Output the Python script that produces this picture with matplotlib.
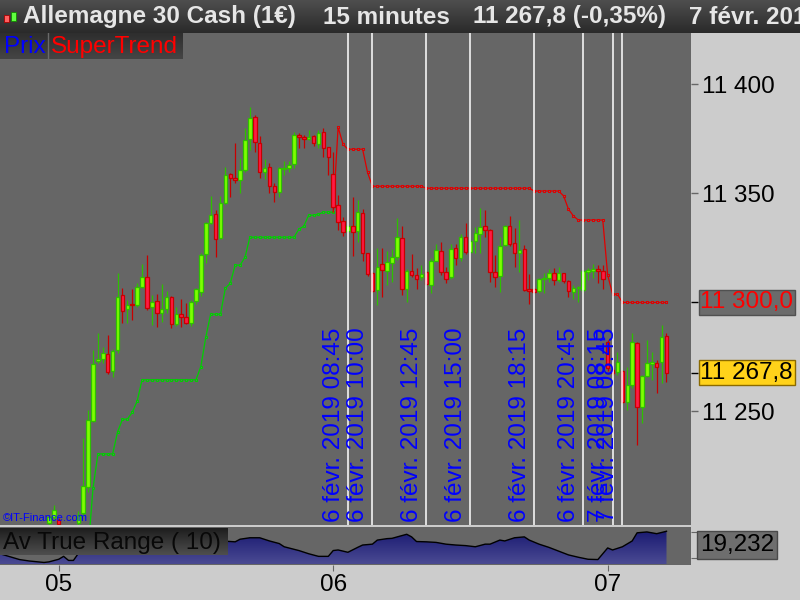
import matplotlib
matplotlib.use('Agg')
import matplotlib.pyplot as plt
import matplotlib.transforms as mtransforms
from matplotlib.colors import LinearSegmentedColormap
from matplotlib.patches import Rectangle
import numpy as np

nan = np.nan

# DAX (Allemagne 30 Cash) 15 min - bougies
opens = [11199.0, 11201.6, 11200.0, nan, nan, nan, 11198.9, 11203.4, 11215.4, 11245.6,
         11273.2, 11274.1, 11276.4, 11268.6, 11278.2, 11303.4, 11297.0, 11299.3, 11298.9, 11307.1,
         11311.7, 11297.9, 11300.7, 11295.2, 11297.0, 11302.5, 11290.1, 11294.7, 11293.3, 11290.6,
         11300.7, 11304.8, 11322.2, 11336.5, 11340.6, 11329.6, 11345.6, 11358.9, 11357.2, 11356.2,
         11360.8, 11375.0, 11385.1, 11373.2, 11359.9, 11362.2, 11353.4, 11350.7, 11361.2, 11361.7,
         11363.5, 11376.8, 11375.9, 11375.0, 11376.4, 11372.7, 11378.2, 11371.2, 11358.9, 11344.7,
         11337.4, 11332.8, 11335.1, 11332.8, 11341.1, 11322.7, 11313.5, 11305.7, 11317.7, 11314.4,
         11318.1, 11320.9, 11329.6, 11306.2, 11314.4, 11312.6, 11311.7, 11314.0, 11308.0, 11319.0,
         11323.6, 11314.0, 11311.7, 11325.0, 11320.4, 11330.0, 11323.2, 11328.2, 11331.4, 11335.1,
         11333.3, 11314.0, 11312.2, 11326.4, 11335.1, 11327.3, 11322.7, 11324.5, 11306.2, 11306.2,
         11305.3, 11310.8, 11311.2, 11313.5, 11310.3, 11313.5, 11309.9, 11304.8, 11306.5, 11305.7,
         11314.1, 11314.4, 11315.4, 11314.4, 11281.9, 11269.0, 11268.1, 11268.6, 11254.4, 11262.2,
         11281.4, 11252.1, 11266.3, 11272.0, 11272.2, 11272.7, 11284.6]
highs = [11202.5, 11207.1, 11201.0, nan, nan, nan, 11204.4, 11237.8, 11250.7, 11278.2,
         11286.0, 11279.6, 11285.1, 11278.5, 11313.5, 11306.7, 11301.1, 11306.2, 11308.9, 11317.7,
         11321.8, 11303.4, 11303.9, 11308.5, 11305.3, 11303.0, 11297.9, 11301.6, 11299.8, 11301.1,
         11306.7, 11322.7, 11336.9, 11348.9, 11342.4, 11348.9, 11362.2, 11359.3, 11373.2, 11366.3,
         11380.0, 11389.7, 11386.0, 11376.4, 11365.8, 11364.0, 11354.8, 11362.2, 11364.9, 11365.0,
         11378.2, 11377.8, 11376.8, 11379.1, 11376.8, 11379.1, 11380.0, 11371.5, 11369.0, 11349.3,
         11339.2, 11335.5, 11348.4, 11347.0, 11342.9, 11322.9, 11314.0, 11325.0, 11325.0, 11323.6,
         11324.5, 11338.8, 11335.1, 11315.4, 11322.2, 11315.8, 11317.2, 11314.5, 11320.4, 11326.8,
         11327.8, 11316.3, 11326.8, 11326.8, 11331.4, 11336.5, 11329.0, 11334.6, 11343.3, 11342.4,
         11333.5, 11321.8, 11330.0, 11335.5, 11339.7, 11334.2, 11337.8, 11326.4, 11313.1, 11306.5,
         11311.0, 11313.5, 11315.4, 11315.8, 11316.3, 11313.7, 11310.3, 11308.0, 11307.6, 11315.0,
         11315.8, 11317.7, 11317.2, 11317.2, 11282.8, 11270.0, 11277.3, 11269.0, 11270.4, 11286.0,
         11282.0, 11266.5, 11282.8, 11277.3, 11273.6, 11289.7, 11286.0]
lows = [11198.0, 11200.5, 11196.0, nan, nan, nan, 11197.0, 11202.0, 11213.1, 11245.0,
        11272.2, 11272.2, 11267.2, 11265.8, 11277.0, 11290.6, 11290.6, 11292.0, 11297.9, 11306.5,
        11296.6, 11289.7, 11288.8, 11291.1, 11295.2, 11288.3, 11289.2, 11288.8, 11290.2, 11289.2,
        11299.3, 11303.0, 11318.1, 11336.0, 11320.9, 11329.0, 11345.0, 11348.4, 11354.8, 11350.2,
        11360.0, 11370.0, 11369.0, 11357.1, 11356.6, 11350.2, 11346.1, 11348.4, 11358.5, 11359.9,
        11361.7, 11370.9, 11370.9, 11374.5, 11371.8, 11370.9, 11366.7, 11358.5, 11343.0, 11333.3,
        11330.5, 11332.5, 11321.3, 11327.8, 11319.0, 11312.2, 11305.0, 11298.9, 11302.5, 11308.0,
        11309.4, 11319.5, 11303.4, 11300.2, 11311.7, 11306.2, 11310.3, 11308.0, 11304.4, 11318.8,
        11312.6, 11308.9, 11310.8, 11317.2, 11319.0, 11322.2, 11322.5, 11322.7, 11322.7, 11330.0,
        11309.4, 11307.1, 11304.8, 11326.0, 11325.9, 11316.3, 11314.0, 11305.3, 11299.3, 11304.5,
        11304.4, 11304.4, 11309.4, 11308.0, 11309.4, 11308.9, 11302.5, 11301.6, 11300.2, 11305.0,
        11310.3, 11311.2, 11308.9, 11306.2, 11268.5, 11266.7, 11266.7, 11254.0, 11250.7, 11260.8,
        11234.7, 11244.7, 11266.0, 11264.5, 11258.5, 11263.1, 11263.5]
closes = [11201.6, 11204.8, 11198.5, nan, nan, nan, 11202.5, 11215.8, 11246.1, 11271.8,
          11274.1, 11276.8, 11268.1, 11277.7, 11302.5, 11296.1, 11298.9, 11298.6, 11307.1, 11311.7,
          11297.5, 11300.2, 11295.2, 11297.0, 11302.5, 11290.1, 11294.7, 11293.3, 11290.6, 11300.2,
          11306.2, 11321.8, 11336.5, 11340.1, 11329.1, 11345.6, 11358.5, 11357.1, 11356.2, 11360.8,
          11374.5, 11384.6, 11373.6, 11359.9, 11361.7, 11353.4, 11350.7, 11361.7, 11361.7, 11363.1,
          11376.8, 11375.9, 11375.0, 11375.9, 11373.2, 11377.8, 11370.9, 11366.7, 11343.8, 11336.9,
          11332.3, 11335.1, 11332.3, 11341.5, 11322.7, 11313.1, 11305.3, 11316.3, 11314.9, 11318.6,
          11320.9, 11330.0, 11306.2, 11314.4, 11312.6, 11310.8, 11313.1, 11308.5, 11319.0, 11324.1,
          11314.0, 11310.8, 11324.5, 11320.4, 11330.0, 11323.2, 11328.2, 11331.9, 11334.6, 11333.3,
          11314.0, 11311.7, 11325.9, 11335.1, 11326.8, 11322.7, 11324.1, 11305.7, 11305.3, 11304.8,
          11310.8, 11311.2, 11313.5, 11310.3, 11313.5, 11309.9, 11305.3, 11306.7, 11307.0, 11314.4,
          11314.9, 11315.4, 11314.4, 11310.8, 11270.0, 11267.7, 11272.7, 11254.4, 11262.2, 11281.9,
          11252.1, 11266.3, 11272.2, 11272.5, 11270.4, 11284.2, 11267.8]

# SuperTrend : tendance haussière (barres 8..58) puis baissière (barres 59..126)
st_up_start = 8
st_up = [11186.5, 11214.9, 11230.5, 11230.5, 11230.5, 11230.5, 11240.5, 11246.4, 11246.4, 11249.6,
         11254.7, 11264.5, 11264.5, 11264.5, 11264.5, 11264.5, 11264.5, 11264.5, 11264.5, 11264.5,
         11264.5, 11264.5, 11264.5, 11270.6, 11284.0, 11294.6, 11294.6, 11294.6, 11306.5, 11308.8,
         11317.1, 11317.1, 11320.7, 11329.9, 11329.9, 11329.9, 11329.9, 11329.9, 11329.9, 11329.9,
         11329.9, 11329.9, 11329.9, 11333.6, 11335.0, 11340.0, 11340.0, 11340.5, 11341.4, 11341.4,
         11341.4]
st_dn_start = 59
st_dn = [11380.4, 11372.6, 11370.3, 11370.3, 11370.3, 11370.3, 11359.7, 11353.3, 11353.3, 11353.3,
         11353.3, 11353.3, 11353.3, 11353.3, 11353.3, 11353.3, 11353.3, 11353.3, 11352.4, 11352.4,
         11352.4, 11352.4, 11352.4, 11352.4, 11352.4, 11352.4, 11352.4, 11352.4, 11352.4, 11352.4,
         11352.4, 11352.4, 11352.4, 11352.4, 11352.4, 11352.4, 11352.4, 11352.4, 11352.4, 11352.4,
         11351.1, 11351.1, 11351.1, 11351.1, 11351.1, 11351.1, 11348.9, 11342.8, 11339.7, 11337.8,
         11337.8, 11337.8, 11337.8, 11337.8, 11337.8, 11312.5, 11303.8, 11303.8, 11300.0, 11300.0,
         11300.0, 11300.0, 11300.0, 11300.0, 11300.0, 11300.0, 11300.0, 11300.0]

# Average True Range (10)
atr_bars = [-10, -6, -4, -1, 0, 2, 3, 4, 5, 6, 8, 12, 20, 30, 38, 39, 41, 43, 45, 47,
            48, 51, 53, 55, 57, 58, 59, 61, 63, 64, 66, 67, 69, 70, 73, 74, 75, 77, 79, 81,
            83, 85, 87, 89, 90, 92, 93, 95, 97, 98, 100, 102, 104, 106, 108, 110, 112, 114, 115, 117,
            119, 120, 122, 124, 126]
atr_vals = [11.5, 9.5, 9.0, 8.5, 8.7, 9.6, 10.6, 9.2, 9.2, 11.6, 13.2, 17.0, 18.0, 16.5, 15.6, 16.5,
            17.0, 17.0, 15.9, 15.0, 13.9, 12.6, 11.5, 10.6, 10.6, 12.6, 12.8, 12.0, 13.7, 14.5, 14.8,
            16.2, 16.7, 16.8, 18.2, 17.3, 15.7, 15.6, 15.4, 14.8, 14.5, 14.3, 13.9, 14.8, 14.8, 16.2,
            15.9, 17.0, 17.3, 16.2, 14.8, 13.7, 12.4, 11.1, 10.3, 9.6, 9.5, 13.5, 12.8, 13.9, 15.9,
            18.7, 19.0, 18.4, 19.232]

# repères verticaux
event_bars = [61, 66, 77, 86, 99, 109, 115, 117]
event_labels = ['6 févr. 2019 08:45', '6 févr. 2019 10:00', '6 févr. 2019 12:45',
                '6 févr. 2019 15:00', '6 févr. 2019 18:15', '6 févr. 2019 20:45',
                '7 févr. 2019 08:15', '7 févr. 2019 08:45']

day_bars = [2, 58, 114]
day_labels = ['05', '06', '07']
price_ticks = [11250, 11350, 11400]
prev_close = 11307.4

W, H = 800, 600
FS = 17.5
plt.rcParams['font.family'] = ['Liberation Sans', 'DejaVu Sans']


def fr(v, d=1):
    s = f'{v:,.{d}f}'
    return s.replace(',', ' ').replace('.', ',')


fig = plt.figure(figsize=(W / 100, H / 100), dpi=100, facecolor='#cccccc')


def rect(l, t, r, b):
    return [l / W, 1 - b / H, (r - l) / W, (b - t) / H]


def pt(x, y):
    return x / W, 1 - y / H


def gradient_panel(r, top, bottom):
    a = fig.add_axes(r)
    cm = LinearSegmentedColormap.from_list('g', [top, bottom])
    a.imshow(np.linspace(0, 1, 50).reshape(-1, 1), cmap=cm, aspect='auto', extent=(0, 1, 0, 1))
    a.set_xlim(0, 1)
    a.set_ylim(0, 1)
    a.set_axis_off()
    return a


ax = fig.add_axes(rect(0, 33, 691, 525), facecolor='#666666')
atr_ax = fig.add_axes(rect(0, 527, 691, 564.5), facecolor='#666666', sharex=ax)
for a in (ax, atr_ax):
    for s in a.spines.values():
        s.set_visible(False)

o, h, l, c = (np.array(v, dtype=float) for v in (opens, highs, lows, closes))
idx = np.arange(len(o))
ok = ~np.isnan(o)
up = ok & (c >= o)
dn = ok & (c < o)
body = np.abs(c - o)
lo = np.minimum(o, c)
min_body = 0.7
lo = np.where(body < min_body, (o + c) / 2 - min_body / 2, lo)
body = np.maximum(body, min_body)

for m, fc, ec in ((up, '#7dff00', '#2ec000'), (dn, '#ff1a44', '#c80000')):
    ax.vlines(idx[m], l[m], h[m], color=ec, lw=0.9, zorder=3)
    ax.bar(idx[m], body[m], bottom=lo[m], width=0.72, color=fc, edgecolor=ec, lw=0.9, zorder=4)

# SuperTrend
x_up = np.arange(st_up_start, st_up_start + len(st_up))
x_dn = np.arange(st_dn_start, st_dn_start + len(st_dn))
ax.plot(x_up, st_up, color='#00d000', lw=0.9, zorder=2)
ax.plot(x_up, st_up, ls='none', marker='s', ms=2.1, mfc='#666666', mec='#00d000', mew=0.75, zorder=2)
ax.plot(np.r_[x_up[-1], x_dn], np.r_[st_up[-1], st_dn], color='#e00000', lw=0.9, zorder=2)
ax.plot(x_dn, st_dn, ls='none', marker='s', ms=2.1, mfc='#666666', mec='#e00000', mew=0.75, zorder=2)

for xb, lab in zip(event_bars, event_labels):
    ax.axvline(xb, color='white', lw=1.1, zorder=5)
    ax.annotate(lab, xy=(xb, 0), xycoords=('data', 'axes fraction'), xytext=(-2.2, 2),
                textcoords='offset points', rotation=90, ha='right', va='bottom',
                color='#0000ff', fontsize=FS, zorder=6)

ax.set_xlim(-9.98, 131.0)
ax.set_ylim(11197.9, 11423.6)
ax.tick_params(axis='x', bottom=False, labelbottom=False)
ax.yaxis.tick_right()
ax.set_yticks(price_ticks)
ax.set_yticklabels([fr(v, 0) for v in price_ticks])
ax.tick_params(axis='y', which='major', direction='out', length=5, width=1, color='#666666',
               labelsize=FS, pad=3, labelcolor='black')
ax.set_yticks([st_dn[-1], closes[-1]], minor=True)
ax.tick_params(axis='y', which='minor', direction='out', length=5, width=1)
for tk, col in zip(ax.yaxis.get_minor_ticks(), ('#ff0000', 'black')):
    tk.tick2line.set_color(col)

trans = mtransforms.blended_transform_factory(ax.transAxes, ax.transData)
ax.text(1.0135, st_dn[-1], fr(st_dn[-1]), transform=trans, ha='left', va='center', fontsize=FS,
        color='#ff0000', clip_on=False, zorder=8,
        bbox=dict(boxstyle='square,pad=0.07', fc='#6b6b6b', ec='#505050', lw=1))
ax.text(1.0135, closes[-1], fr(closes[-1]), transform=trans, ha='left', va='center', fontsize=FS,
        color='black', clip_on=False, zorder=8,
        bbox=dict(boxstyle='square,pad=0.07', fc='#ffd21a', ec='#8a6a00', lw=1))

# ATR panel
atr_lo, atr_hi = 7.8, 20.7
atr_ax.set_ylim(atr_lo, atr_hi)
poly = atr_ax.fill_between(atr_bars, atr_vals, atr_lo, color='none', lw=0)
cm = LinearSegmentedColormap.from_list('atr', ['#14146e', '#4a4a92'])
im = atr_ax.imshow(np.linspace(0, 1, 50).reshape(-1, 1), cmap=cm, aspect='auto',
                   extent=(-10, 131, atr_lo, atr_hi), zorder=1)
im.set_clip_path(poly.get_paths()[0], transform=atr_ax.transData)
atr_ax.plot(atr_bars, atr_vals, color='black', lw=1, zorder=2)
atr_ax.set_xlim(-9.98, 131.0)
atr_ax.yaxis.tick_right()
atr_ax.set_yticks([10, 19])
atr_ax.set_yticklabels([])
atr_ax.tick_params(axis='y', direction='out', length=5, color='#666666')
atr_ax.set_xticks(day_bars)
atr_ax.set_xticklabels(day_labels)
atr_ax.tick_params(axis='x', direction='out', length=4, color='#666666', labelsize=FS, pad=3)

fig.text(*pt(700, 545), fr(atr_vals[-1], 3), fontsize=FS, color='black', ha='left', va='center',
         bbox=dict(boxstyle='square,pad=0.12', fc='#6e6e6e', ec='#4a4a4a', lw=1), zorder=8)

# étiquette ATR
lab_ax = gradient_panel(rect(0, 528, 228, 555), '#1e1e1e', '#4e4e4e')
lab_ax.text(0.015, 0.45, 'Av True Range ( 10)', fontsize=FS, color='#080808', va='center', ha='left')

# barre de titre
title_ax = gradient_panel(rect(0, 0, 800, 33), '#4e4e4e', '#2a2a2a')
title_ax.add_patch(Rectangle((3.5 / W, 1 - 22 / 33), 5 / W, 7 / 33, fc='#ff6060', ec='#aa0000', lw=0.6))
title_ax.add_patch(Rectangle((10.5 / W, 1 - 21 / 33), 5 / W, 9 / 33, fc='#60ff40', ec='#118800', lw=0.6))
pct = (closes[-1] / prev_close - 1) * 100
title_parts = ['Allemagne 30 Cash (1€)', '15 minutes', f'{fr(closes[-1])} ({fr(pct, 2)}%)', '7 févr. 2019']
for x0, s in zip((23, 323, 473, 689), title_parts):
    fig.text(*pt(x0, 17), s, fontsize=FS, fontweight='bold', color='#e6e6e6', ha='left', va='center')

# légende
leg_ax = gradient_panel(rect(0, 33, 183, 59), '#2e2e2e', '#454545')
leg_ax.axvline(47.5 / 183, color='#6a6a6a', lw=1)
leg_ax.text(4 / 183, 0.45, 'Prix', fontsize=FS, color='#0000ff', va='center', ha='left')
leg_ax.text(51 / 183, 0.45, 'SuperTrend', fontsize=FS, color='#ff0000', va='center', ha='left')

fig.text(*pt(3, 518), '©IT-Finance.com', fontsize=8, color='#0000ff', va='center', ha='left')

fig.savefig('out.png', dpi=100, facecolor=fig.get_facecolor())
